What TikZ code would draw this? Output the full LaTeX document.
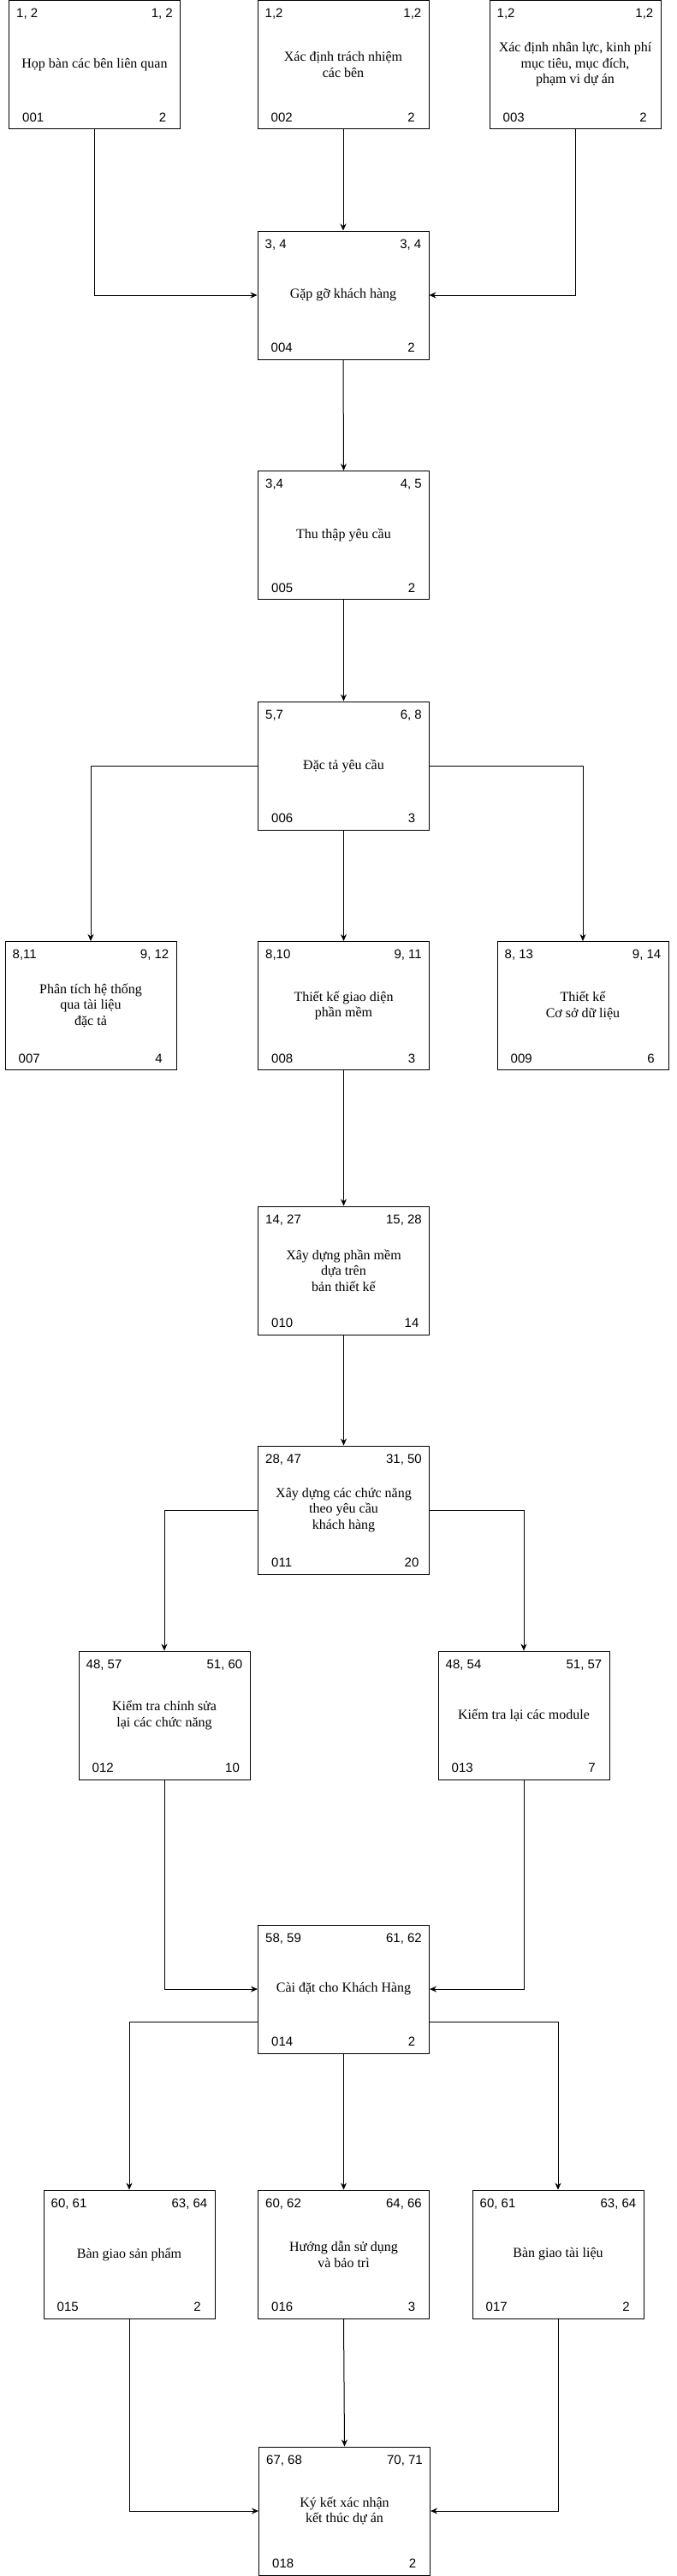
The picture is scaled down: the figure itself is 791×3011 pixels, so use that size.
\documentclass[tikz,border=0pt]{standalone}
\usepackage{fontspec}
\setmainfont{Liberation Serif}
\setsansfont{Liberation Sans}
\usetikzlibrary{arrows.meta}

\newcommand{\taskbox}[7]{%
  \node[task] (#1) at (#2) {#3};
  \node[num, anchor=base west] (#1-es) at ([xshift=9pt,yshift=-20.5pt]#1.north west) {#4};
  \node[num, anchor=base east] (#1-ef) at ([xshift=-9pt,yshift=-20.5pt]#1.north east) {#5};
  \node[num, anchor=base west] (#1-id) at ([xshift=16pt,yshift=9pt]#1.south west) {#6};
  \node[num, anchor=base] (#1-du) at ([xshift=-21pt,yshift=9pt]#1.south east) {#7};
}

\begin{document}
\begin{tikzpicture}[x=1pt, y=-1pt,
    task/.style={draw, line width=1pt, minimum width=200pt, minimum height=150pt,
      inner sep=2pt, align=center, font=\fontsize{16}{18.5}\selectfont},
    num/.style={inner sep=0pt, font=\sffamily\fontsize{15}{18}\selectfont},
    arr/.style={-{Stealth[length=8pt,width=7pt]}, line width=1pt}]
    \useasboundingbox (0,0) rectangle (791,3011);

    \taskbox{t001}{110.5,75.5}{Họp bàn các bên liên quan}{1, 2}{1, 2}{001}{2}
    \taskbox{t002}{401,75.5}{Xác định trách nhiệm\\các bên}{1,2}{1,2}{002}{2}
    \taskbox{t003}{672,75.5}{Xác định nhân lực, kinh phí\\mục tiêu, mục đích,\\phạm vi dự án}{1,2}{1,2}{003}{2}
    \taskbox{t004}{401,345}{Gặp gỡ khách hàng}{3, 4}{3, 4}{004}{2}
    \taskbox{t005}{401.5,625.5}{Thu thập yêu cầu}{3,4}{4, 5}{005}{2}
    \taskbox{t006}{401.5,895}{Đặc tả yêu cầu}{5,7}{6, 8}{006}{3}
    \taskbox{t007}{106,1175.5}{Phân tích hệ thống\\qua tài liệu\\đặc tả}{8,11}{9, 12}{007}{4}
    \taskbox{t008}{401.5,1175.5}{Thiết kế giao diện\\phần mềm}{8,10}{9, 11}{008}{3}
    \taskbox{t009}{681,1175.5}{Thiết kế\\Cơ sở dữ liệu}{8, 13}{9, 14}{009}{6}
    \taskbox{t010}{401.5,1485}{Xây dựng phần mềm\\dựa trên\\bản thiết kế}{14, 27}{15, 28}{010}{14}
    \taskbox{t011}{401.5,1765}{Xây dựng các chức năng\\theo yêu cầu\\khách hàng}{28, 47}{31, 50}{011}{20}
    \taskbox{t012}{192,2005}{Kiểm tra chỉnh sửa\\lại các chức năng}{48, 57}{51, 60}{012}{10}
    \taskbox{t013}{612,2005}{Kiểm tra lại các module}{48, 54}{51, 57}{013}{7}
    \taskbox{t014}{401.5,2325}{Cài đặt cho Khách Hàng}{58, 59}{61, 62}{014}{2}
    \taskbox{t015}{151,2635}{Bàn giao sản phẩm}{60, 61}{63, 64}{015}{2}
    \taskbox{t016}{401.5,2635}{Hướng dẫn sử dụng\\và bảo trì}{60, 62}{64, 66}{016}{3}
    \taskbox{t017}{652,2635}{Bàn giao tài liệu}{60, 61}{63, 64}{017}{2}
    \taskbox{t018}{402.5,2935}{Ký kết xác nhận\\kết thúc dự án}{67, 68}{70, 71}{018}{2}

    \draw[arr] (t001.south) |- (t004.west);
    \draw[arr] (t002.south) -- (t004.north);
    \draw[arr] (t003.south) |- (t004.east);
    \draw[arr] (t004.south) -- (t005.north);
    \draw[arr] (t005.south) -- (t006.north);
    \draw[arr] (t006.west) -| (t007.north);
    \draw[arr] (t006.south) -- (t008.north);
    \draw[arr] (t006.east) -| (t009.north);
    \draw[arr] (t008.south) -- (t010.north);
    \draw[arr] (t010.south) -- (t011.north);
    \draw[arr] (t011.west) -| (t012.north);
    \draw[arr] (t011.east) -| (t013.north);
    \draw[arr] (t012.south) |- (t014.west);
    \draw[arr] (t013.south) |- (t014.east);
    \draw[arr] ([yshift=-38pt]t014.west) -| (t015.north);
    \draw[arr] (t014.south) -- (t016.north);
    \draw[arr] ([yshift=-38pt]t014.east) -| (t017.north);
    \draw[arr] (t015.south) |- (t018.west);
    \draw[arr] (t016.south) -- (t018.north);
    \draw[arr] (t017.south) |- (t018.east);
\end{tikzpicture}
\end{document}
